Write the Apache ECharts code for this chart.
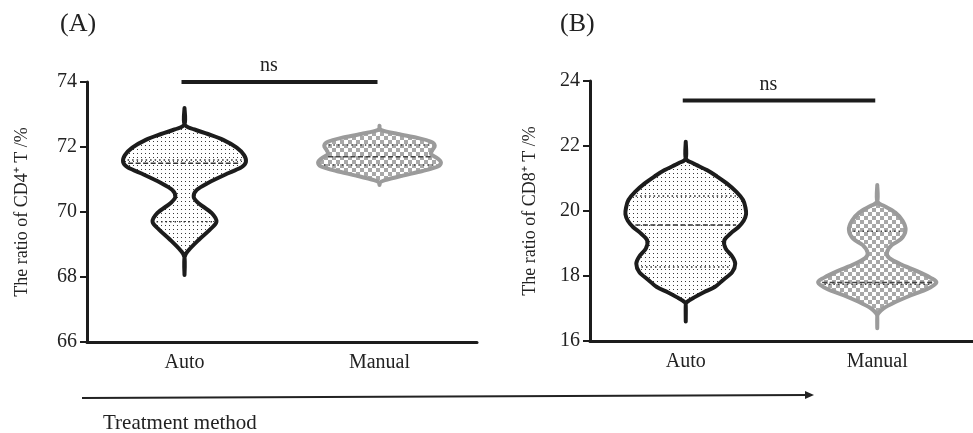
<!DOCTYPE html>
<html><head><meta charset="utf-8">
<script src="https://cdn.jsdelivr.net/npm/echarts@6/dist/echarts.min.js"></script>
<style>html,body{margin:0;padding:0;background:#fff}#c{width:973px;height:433px}</style>
</head><body><div id="c"></div>
<script>
// ---------------- data ----------------
const categories = ['Auto', 'Manual'];
const cd4Ticks = [66, 68, 70, 72, 74];
const cd8Ticks = [16, 18, 20, 22, 24];

// violin density profiles: [value, relative half-width (0..1)]
const cd4AutoProfile = [[73.20,0],[72.70,0],[72.54,0.16],[72.40,0.38],[72.22,0.63],[71.98,0.85],[71.75,0.97],[71.54,1.0],[71.38,0.93],[71.20,0.72],[70.90,0.39],[70.68,0.20],[70.46,0.15],[70.27,0.23],[69.97,0.44],[69.70,0.52],[69.45,0.41],[69.14,0.23],[68.83,0.07],[68.60,0],[68.06,0]];
const cd4ManualProfile = [[72.65,0],[72.52,0.03],[72.40,0.30],[72.28,0.62],[72.16,0.84],[72.04,0.90],[71.90,0.86],[71.78,0.84],[71.64,0.95],[71.52,1.0],[71.40,0.95],[71.26,0.70],[71.12,0.38],[70.98,0.09],[70.90,0],[70.83,0]];
const cd8AutoProfile = [[22.13,0],[21.62,0],[21.47,0.12],[21.26,0.35],[21.06,0.52],[20.85,0.68],[20.59,0.84],[20.34,0.95],[20.10,0.99],[19.90,1.0],[19.70,0.96],[19.50,0.87],[19.32,0.75],[19.10,0.64],[18.85,0.66],[18.60,0.77],[18.38,0.82],[18.12,0.77],[17.88,0.62],[17.66,0.48],[17.50,0.30],[17.35,0.15],[17.20,0.02],[17.10,0],[16.60,0]];
const cd8ManualProfile = [[20.80,0],[20.30,0],[20.15,0.12],[19.95,0.30],[19.70,0.42],[19.42,0.47],[19.15,0.40],[18.95,0.24],[18.72,0.16],[18.55,0.20],[18.35,0.40],[18.15,0.66],[17.95,0.88],[17.80,0.98],[17.60,0.83],[17.40,0.55],[17.20,0.30],[17.00,0.10],[16.85,0.02],[16.75,0],[16.39,0]];

// quartiles [Q1, median, Q3]
const cd4AutoQuartiles = [69.70, 71.50, 71.60];
const cd4ManualQuartiles = [71.45, 71.70, 72.06];
const cd8AutoQuartiles = [18.28, 19.57, 20.46];
const cd8ManualQuartiles = [17.75, 17.80, 19.38];

const sigLevels = [74, 23.4];
const sigLabels = ['ns', 'ns'];

// ---------------- helpers ----------------
const FONT = "'Liberation Serif','Times New Roman',serif";
const panels = [
  { profiles: [cd4AutoProfile, cd4ManualProfile], quartiles: [cd4AutoQuartiles, cd4ManualQuartiles] },
  { profiles: [cd8AutoProfile, cd8ManualProfile], quartiles: [cd8AutoQuartiles, cd8ManualQuartiles] }
];

function makeDots() {
  const c = document.createElement('canvas'); c.width = 4; c.height = 4;
  const g = c.getContext('2d');
  g.fillStyle = '#fff'; g.fillRect(0, 0, 4, 4);
  g.fillStyle = '#3a3a3a'; g.fillRect(1, 1, 1, 1);
  return c;
}
function makeChecker() {
  const c = document.createElement('canvas'); c.width = 8; c.height = 8;
  const g = c.getContext('2d');
  g.fillStyle = '#fff'; g.fillRect(0, 0, 8, 8);
  g.fillStyle = '#a8a8a8'; g.fillRect(0, 0, 4, 4); g.fillRect(4, 4, 4, 4);
  return c;
}
const violinStyles = [
  { stroke: '#1c1c1c', fill: { image: makeDots(), repeat: 'repeat' }, line: '#333' },
  { stroke: '#9b9b9b', fill: { image: makeChecker(), repeat: 'repeat' }, line: '#444' }
];

function f(n) { return n.toFixed(2); }
function catmull(p) {
  let s = '';
  for (let i = 0; i < p.length - 1; i++) {
    const p0 = p[i - 1] || p[i], p1 = p[i], p2 = p[i + 1], p3 = p[i + 2] || p[i + 1];
    const c1x = p1[0] + (p2[0] - p0[0]) / 6, c1y = p1[1] + (p2[1] - p0[1]) / 6;
    const c2x = p2[0] - (p3[0] - p1[0]) / 6, c2y = p2[1] - (p3[1] - p1[1]) / 6;
    s += 'C' + f(c1x) + ',' + f(c1y) + ' ' + f(c2x) + ',' + f(c2y) + ' ' + f(p2[0]) + ',' + f(p2[1]);
  }
  return s;
}
function densityAt(profile, v) {
  for (let i = 0; i < profile.length - 1; i++) {
    const a = profile[i], b = profile[i + 1];
    if (v <= a[0] && v >= b[0]) {
      const t = (a[0] - v) / (a[0] - b[0]);
      return a[1] + (b[1] - a[1]) * t;
    }
  }
  return 0;
}

function violinRender(panelIdx) {
  return function (params, api) {
    const ci = api.value(0);
    const profile = panels[panelIdx].profiles[ci];
    const quarts = panels[panelIdx].quartiles[ci];
    const st = violinStyles[ci];
    const band = api.size([1, 0])[0];
    const hwMax = band * 0.315;
    const cx = api.coord([ci, profile[0][0]])[0];
    const right = profile.map(([v, d]) => [cx + d * hwMax, api.coord([ci, v])[1]]);
    const left = right.slice().reverse().map(([x, y]) => [2 * cx - x, y]);
    const path = 'M' + f(right[0][0]) + ',' + f(right[0][1]) + catmull(right) + catmull(left) + 'Z';
    const children = [{
      type: 'path',
      shape: { pathData: path },
      style: { fill: st.fill, stroke: st.stroke, lineWidth: 4, lineJoin: 'round' }
    }];
    quarts.forEach((q, k) => {
      const w = densityAt(profile, q) * hwMax - 4;
      if (w <= 0) return;
      const y = api.coord([ci, q])[1];
      children.push({
        type: 'line',
        shape: { x1: cx - w, y1: y, x2: cx + w, y2: y },
        style: { stroke: st.line, lineWidth: 1.5, lineDash: k === 1 ? [5, 2.5] : [1.5, 3] }
      });
    });
    return { type: 'group', children };
  };
}
function sigRender(panelIdx) {
  return function (params, api) {
    const lvl = sigLevels[panelIdx];
    const p0 = api.coord([0, lvl]), p1 = api.coord([1, lvl]);
    const mid = (p0[0] + p1[0]) / 2;
    return { type: 'group', children: [
      { type: 'line', shape: { x1: p0[0] - 3, y1: p0[1], x2: p1[0] - 2, y2: p1[1] },
        style: { stroke: '#1c1c1c', lineWidth: 4 } },
      { type: 'text', style: { text: sigLabels[panelIdx], x: mid - 13, y: p0[1] - 16,
        fill: '#222', font: '20px ' + FONT, align: 'center', verticalAlign: 'middle' } }
    ]};
  };
}

function xAxisOf(gi) {
  return {
    type: 'category', gridIndex: gi, data: categories,
    axisLine: { lineStyle: { color: '#1c1c1c', width: 3 } },
    axisTick: { show: false },
    axisLabel: { fontFamily: FONT, fontSize: 20, color: '#222', margin: 11 }
  };
}
function yAxisOf(gi, ticks, name, gap) {
  return {
    type: 'value', gridIndex: gi,
    min: ticks[0], max: ticks[ticks.length - 1], interval: ticks[1] - ticks[0],
    axisLine: { show: true, lineStyle: { color: '#1c1c1c', width: 3 } },
    axisTick: { show: true, length: 7, lineStyle: { color: '#1c1c1c', width: 2 } },
    splitLine: { show: false },
    axisLabel: { fontFamily: FONT, fontSize: 20, color: '#222', margin: 10 },
    name: name, nameLocation: 'middle', nameGap: gap,
    nameTextStyle: { fontFamily: FONT, fontSize: 18, color: '#222' }
  };
}

const chart = echarts.init(document.getElementById('c'), null, { renderer: 'canvas' });
chart.setOption({
  animation: false,
  backgroundColor: '#fff',
  grid: [
    { left: 87, top: 82, width: 390, height: 260 },
    { left: 590, top: 81, width: 391, height: 260 }
  ],
  xAxis: [xAxisOf(0), xAxisOf(1)],
  yAxis: [
    yAxisOf(0, cd4Ticks, 'The ratio of CD4\u207A T /%', 56),
    yAxisOf(1, cd8Ticks, 'The ratio of CD8\u207A T /%', 51)
  ],
  series: [
    { type: 'custom', xAxisIndex: 0, yAxisIndex: 0, renderItem: violinRender(0),
      data: [[0, cd4AutoQuartiles[1]], [1, cd4ManualQuartiles[1]]], encode: { x: 0, y: 1 }, silent: true },
    { type: 'custom', xAxisIndex: 1, yAxisIndex: 1, renderItem: violinRender(1),
      data: [[0, cd8AutoQuartiles[1]], [1, cd8ManualQuartiles[1]]], encode: { x: 0, y: 1 }, silent: true },
    { type: 'custom', xAxisIndex: 0, yAxisIndex: 0, renderItem: sigRender(0),
      data: [[0, sigLevels[0]]], encode: { x: 0, y: 1 }, silent: true },
    { type: 'custom', xAxisIndex: 1, yAxisIndex: 1, renderItem: sigRender(1),
      data: [[0, sigLevels[1]]], encode: { x: 0, y: 1 }, silent: true }
  ],
  graphic: [
    { type: 'text', left: 60, top: 11, style: { text: '(A)', font: '26px ' + FONT, fill: '#222' } },
    { type: 'text', left: 560, top: 11, style: { text: '(B)', font: '26px ' + FONT, fill: '#222' } },
    { type: 'line', shape: { x1: 82, y1: 398, x2: 808, y2: 395 }, style: { stroke: '#222', lineWidth: 2 } },
    { type: 'polygon', shape: { points: [[805, 391], [814, 395], [805, 399]] }, style: { fill: '#222' } },
    { type: 'text', left: 103, top: 413, style: { text: 'Treatment method', font: '21px ' + FONT, fill: '#222' } }
  ]
});
</script>
</body></html>
